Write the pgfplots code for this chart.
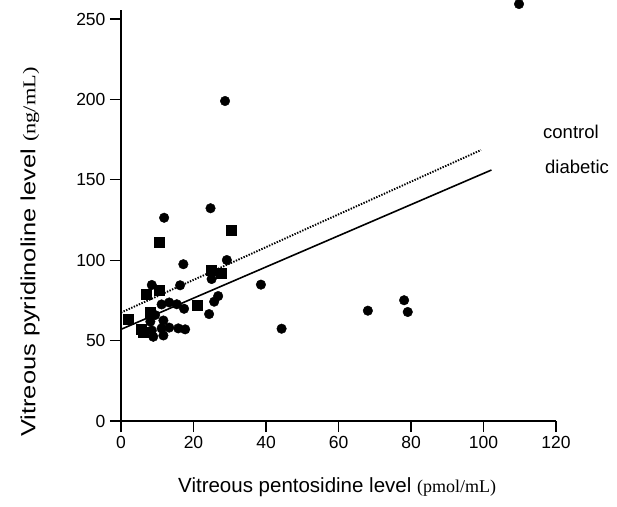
\documentclass[border=0pt]{standalone}
\usepackage{pgfplots}
\pgfplotsset{compat=1.18}
\usepackage{fontspec}
\setmainfont{Liberation Sans}
\newfontfamily\tms{Liberation Serif}
\begin{document}
\begin{tikzpicture}
\useasboundingbox (-121pt,-85pt) rectangle (496pt,421pt);
\begin{axis}[
  anchor=origin, at={(0pt,0pt)},
  x=3.625pt, y=1.608pt,
  xmin=0, xmax=120, ymin=0, ymax=255.6,
  clip=false,
  axis lines=left,
  axis line style={-, line width=1.4pt},
  x axis line style={shorten <=-10pt},
  y axis line style={shorten <=-11pt},
  xtick={0,20,...,120}, ytick={0,50,...,250},
  tick align=outside, major tick length=11pt,
  tick style={line width=1.4pt, black},
  /pgf/number format/assume math mode=true,
  tick label style={font=\fontsize{17.5}{20}\selectfont},
  xticklabel style={yshift=-1pt},
  yticklabel style={xshift=-1pt},
]
\addplot[only marks, mark=*, mark size=4.8pt, black] coordinates {
(109.8,259.3) (28.7,199.0) (11.9,126.4) (24.7,132.3) (17.2,97.5)
(29.2,100.1) (38.6,84.8) (8.5,84.6) (16.3,84.4) (25.0,88.3)
(11.2,72.5) (13.3,73.7) (15.4,72.6) (17.4,69.8) (26.8,77.7)
(25.7,74.2) (24.3,66.5) (8.1,61.8) (11.7,62.5) (9.4,65.9)
(8.5,56.3) (8.9,52.4) (11.2,57.6) (11.7,53.2) (13.3,58.1)
(15.8,57.6) (17.7,57.0) (44.3,57.4) (68.1,68.6) (78.1,75.1)
(79.1,67.8)
};
\addplot[only marks, mark=square*, mark size=5pt, black] coordinates {
(10.5,110.9) (30.3,118.8) (6.9,79.1) (10.6,81.2) (25.0,93.9)
(27.7,91.7) (21.0,72.1) (2.0,63.3) (8.0,67.8) (5.5,57.2)
(6.2,55.0)
};
\addplot[black, line width=1.6pt, no marks] coordinates {(0,57.0) (102.2,156.1)};
\addplot[black, line width=1.9pt, no marks, dash pattern=on 1.4pt off 1.4pt] coordinates {(0,67.4) (99.3,168.5)};
\end{axis}
\node[anchor=west, inner sep=0pt, font=\fontsize{18.5}{22}\selectfont] at (422pt,289pt) {control};
\node[anchor=west, inner sep=0pt, font=\fontsize{18.5}{22}\selectfont] at (424pt,254pt) {diabetic};
\node[anchor=west, inner sep=0pt, font=\fontsize{20.5}{24}\selectfont] at (57pt,-66pt) {Vitreous pentosidine level {\tms\fontsize{18}{22}\selectfont (pmol/mL)}};
\node[anchor=west, rotate=90, xscale=1.24, inner sep=0pt, font=\fontsize{20.5}{24}\selectfont] at (-91pt,-16pt) {Vitreous pyridinoline level {\tms\fontsize{18}{22}\selectfont (ng/mL)}};
\end{tikzpicture}
\end{document}
